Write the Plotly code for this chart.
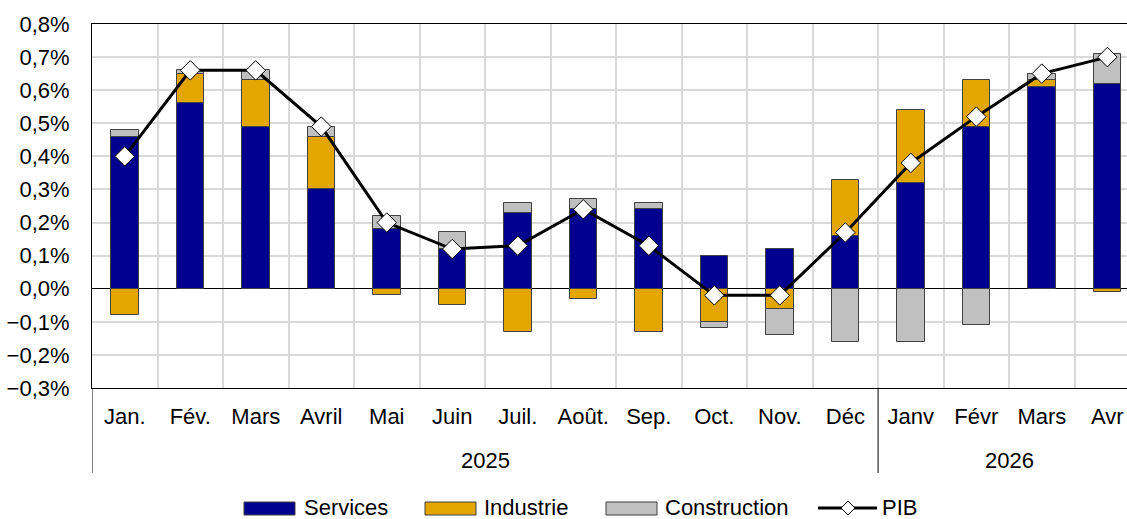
import plotly.graph_objects as go

months = ["Jan.", "Fév.", "Mars", "Avril", "Mai", "Juin", "Juil.", "Août.", "Sep.", "Oct.", "Nov.", "Déc",
          "Janv", "Févr", "Mars", "Avr"]
years = ["2025", "2026"]
year_counts = [12, 4]

services = [0.46, 0.56, 0.49, 0.30, 0.18, 0.12, 0.23, 0.24, 0.24, 0.10, 0.12, 0.16, 0.32, 0.49, 0.61, 0.62]
industrie = [-0.08, 0.09, 0.14, 0.16, -0.02, -0.05, -0.13, -0.03, -0.13, -0.10, -0.06, 0.17, 0.22, 0.14, 0.02, -0.01]
construction = [0.02, 0.01, 0.03, 0.03, 0.04, 0.05, 0.03, 0.03, 0.02, -0.02, -0.08, -0.16, -0.16, -0.11, 0.02, 0.09]
pib = [0.40, 0.66, 0.66, 0.49, 0.20, 0.12, 0.13, 0.24, 0.13, -0.02, -0.02, 0.17, 0.38, 0.52, 0.65, 0.70]

series_names = ["Services", "Industrie", "Construction"]
series_colors = ["#00008F", "#E3A600", "#C0C0C0"]

x = list(range(len(months)))
FONT = "Liberation Sans, Arial, sans-serif"
FS = 22

W, H = 1127, 519
ML, MR, MT, MB = 92, 0, 24, 131
PW, PH = W - ML - MR, H - MT - MB


def px(xp):
    return (xp - ML) / PW


def py(yp):
    return (H - MB - yp) / PH


def pct(v):
    return [a / 100 for a in v]


fig = go.Figure()
bar_line = dict(color="#404040", width=1)
for name, vals, col in zip(series_names, [services, industrie, construction], series_colors):
    fig.add_trace(go.Bar(x=x, y=pct(vals), name=name, width=0.42,
                         marker=dict(color=col, line=bar_line)))

fig.add_trace(go.Scatter(x=x, y=pct(pib), name="PIB", mode="lines+markers",
                         line=dict(color="black", width=3),
                         marker=dict(symbol="diamond", size=15, color="white",
                                     line=dict(color="black", width=1))))

# year labels and dividers
y_div_bottom = py(473)
start = -0.5
shapes = [dict(type="line", xref="x", yref="paper", x0=start, x1=start, y0=0, y1=y_div_bottom,
               line=dict(color="black", width=1))]
annotations = []
for yr, n in zip(years, year_counts):
    end = start + n
    annotations.append(dict(x=(start + end) / 2, y=py(460), xref="x", yref="paper", text=yr,
                            showarrow=False, yanchor="middle",
                            font=dict(family=FONT, size=FS, color="black")))
    if end < len(months) - 0.5:
        shapes.append(dict(type="line", xref="x", yref="paper", x0=end, x1=end, y0=0, y1=y_div_bottom,
                           line=dict(color="black", width=1)))
    start = end

# custom legend (wide swatches as in the reference)
LY = 508
leg_y0, leg_y1, leg_yc = py(LY + 7), py(LY - 6), py(LY)
leg_items = [(244, 295, 302), (425, 476, 482), (606, 657, 663)]
for (x0, x1, tx), name, col in zip(leg_items, series_names, series_colors):
    shapes.append(dict(type="rect", xref="paper", yref="paper", x0=px(x0), x1=px(x1),
                       y0=leg_y0, y1=leg_y1, fillcolor=col, line=dict(color="#404040", width=1)))
    annotations.append(dict(x=px(tx), y=py(LY - 1), xref="paper", yref="paper", text=name,
                            showarrow=False, xanchor="left", yanchor="middle",
                            font=dict(family=FONT, size=FS, color="black")))
# PIB legend: line + diamond
shapes.append(dict(type="line", xref="paper", yref="paper", x0=px(818), x1=px(877),
                   y0=leg_yc, y1=leg_yc, line=dict(color="black", width=3)))
dc, dr = 848, 7
shapes.append(dict(type="path", xref="paper", yref="paper",
                   path=f"M {px(dc - dr)} {leg_yc} L {px(dc)} {py(LY - dr)} L {px(dc + dr)} {leg_yc} "
                        f"L {px(dc)} {py(LY + dr)} Z",
                   fillcolor="white", line=dict(color="black", width=1)))
annotations.append(dict(x=px(880), y=py(LY - 1), xref="paper", yref="paper", text="PIB",
                        showarrow=False, xanchor="left", yanchor="middle",
                        font=dict(family=FONT, size=FS, color="black")))

fig.update_layout(
    width=W, height=H,
    margin=dict(l=ML, r=MR, t=MT, b=MB, autoexpand=False),
    plot_bgcolor="white", paper_bgcolor="white",
    barmode="relative", bargap=0,
    separators=", ",
    font=dict(family=FONT, size=FS, color="black"),
    shapes=shapes, annotations=annotations,
    showlegend=False,
    xaxis=dict(range=[-0.5, 15.3], tickvals=x, ticktext=months, showgrid=False,
               showline=True, linecolor="black", linewidth=1, mirror=True,
               ticks="", ticklabelstandoff=9, zeroline=False,
               minor=dict(tickvals=[i + 0.5 for i in x], showgrid=True, gridcolor="#D9D9D9",
                          gridwidth=2)),
    yaxis=dict(range=[-0.003, 0.008], dtick=0.001, tickformat=".1%", showgrid=True,
               gridcolor="#D9D9D9", gridwidth=2, showline=True, linecolor="black",
               linewidth=1, zeroline=True, zerolinecolor="black", zerolinewidth=1,
               ticks="", ticklabelstandoff=17),
)

fig.write_html("out.html", config={"displayModeBar": False},
               post_script="document.body.style.margin='0';document.body.style.overflow='hidden';")
